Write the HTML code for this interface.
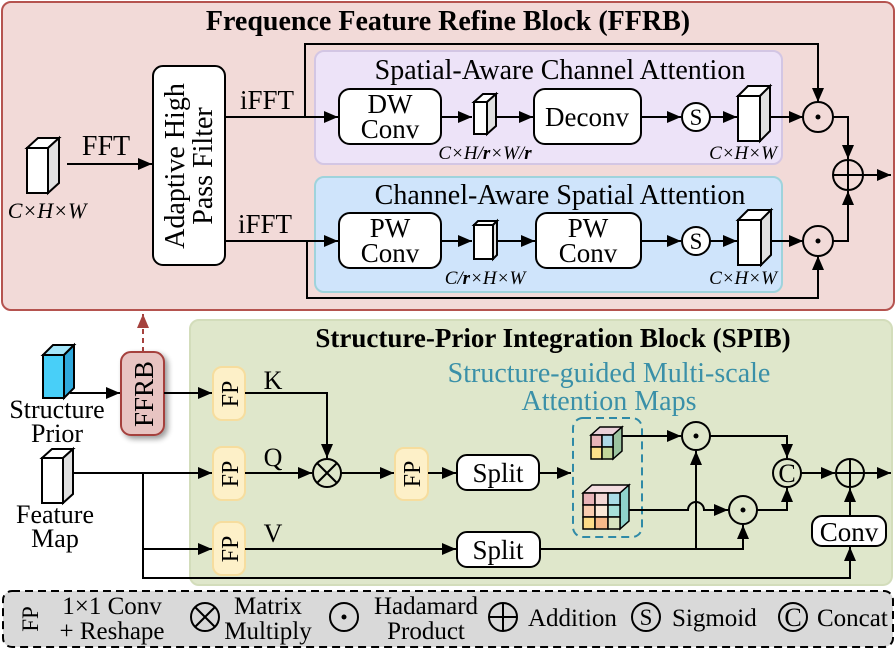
<!DOCTYPE html>
<html><head><meta charset="utf-8"><style>
html,body{margin:0;padding:0;background:#fff;}
svg{display:block;}
text{font-family:"Liberation Serif",serif;fill:#000;}
</style></head><body>
<svg width="896" height="650" viewBox="0 0 896 650" xmlns="http://www.w3.org/2000/svg">
<defs>
<marker id="a" viewBox="0 0 14 12" refX="14" refY="6" markerWidth="14" markerHeight="12" markerUnits="userSpaceOnUse" orient="auto"><path d="M0,0 L14,6 L0,12 z" fill="#000"/></marker>
<marker id="ared" viewBox="0 0 14 12" refX="14" refY="6" markerWidth="14" markerHeight="12" markerUnits="userSpaceOnUse" orient="auto"><path d="M0,0 L14,6 L0,12 z" fill="#a5413d"/></marker>
<filter id="sh" x="-30%" y="-30%" width="160%" height="160%"><feGaussianBlur in="SourceAlpha" stdDeviation="3"/><feOffset dx="3" dy="3"/><feComponentTransfer><feFuncA type="linear" slope="0.4"/></feComponentTransfer><feMerge><feMergeNode/><feMergeNode in="SourceGraphic"/></feMerge></filter>
</defs>

<!-- FFRB -->
<rect x="2" y="2" width="892" height="308" rx="9" fill="#f2dad8" stroke="#b5534f" stroke-width="2"/>
<text x="448" y="30" font-size="28" font-weight="bold" text-anchor="middle">Frequence Feature Refine Block (FFRB)</text>

<rect x="315" y="51" width="467" height="113" rx="9" fill="#ede3f8" stroke="#d3c6e4" stroke-width="2"/>
<text x="560" y="79" font-size="28" text-anchor="middle">Spatial-Aware Channel Attention</text>
<rect x="315" y="177" width="467" height="115" rx="9" fill="#cfe4fb" stroke="#9fd3dc" stroke-width="2"/>
<text x="560" y="204" font-size="28" text-anchor="middle">Channel-Aware Spatial Attention</text>

<g stroke="#000" stroke-width="2" fill="none">
<path d="M27,148 L38,138 L59,138 L48,148 Z" fill="#fff"/>
<path d="M48,148 L59,138 L59,183 L48,193 Z" fill="#e0e0e0"/>
<rect x="27" y="148" width="21" height="45" fill="#fff"/>
<line x1="67" y1="164" x2="152" y2="164" marker-end="url(#a)"/>
<rect x="153" y="66" width="72" height="199" rx="10" fill="#fff"/>
<line x1="225" y1="117" x2="338" y2="117" marker-end="url(#a)"/>
<polyline points="305,117 305,44 818,44 818,102" marker-end="url(#a)"/>
<line x1="225" y1="241" x2="338" y2="241" marker-end="url(#a)"/>
<polyline points="307,241 307,298 818,298 818,256" marker-end="url(#a)"/>

<rect x="339" y="89" width="102" height="55" rx="11" fill="#fff"/>
<line x1="441" y1="117" x2="472" y2="117" marker-end="url(#a)"/>
<path d="M474,102 L483,94 L496,94 L487,102 Z" fill="#fff"/>
<path d="M487,102 L496,94 L496,126 L487,134 Z" fill="#e0e0e0"/>
<rect x="474" y="102" width="13" height="32" fill="#fff"/>
<line x1="496" y1="117" x2="533" y2="117" marker-end="url(#a)"/>
<rect x="534" y="89" width="107" height="55" rx="11" fill="#fff"/>
<line x1="641" y1="117" x2="681" y2="117" marker-end="url(#a)"/>
<circle cx="696" cy="117" r="14" fill="#fff"/>
<line x1="710" y1="117" x2="737" y2="117" marker-end="url(#a)"/>
<path d="M738,96 L748,86 L770,86 L760,96 Z" fill="#fff"/>
<path d="M760,96 L770,86 L770,131 L760,141 Z" fill="#e0e0e0"/>
<rect x="738" y="96" width="22" height="45" fill="#fff"/>
<line x1="770" y1="117" x2="803" y2="117" marker-end="url(#a)"/>
<circle cx="818" cy="117" r="15" fill="none"/>
<polyline points="833,117 848,117 848,159" marker-end="url(#a)"/>

<rect x="339" y="213" width="102" height="55" rx="11" fill="#fff"/>
<line x1="441" y1="241" x2="472" y2="241" marker-end="url(#a)"/>
<path d="M474,225 L478,221 L497,221 L493,225 Z" fill="#fff"/>
<path d="M493,225 L497,221 L497,255 L493,259 Z" fill="#e0e0e0"/>
<rect x="474" y="225" width="19" height="34" fill="#fff"/>
<line x1="497" y1="241" x2="535" y2="241" marker-end="url(#a)"/>
<rect x="536" y="213" width="105" height="55" rx="11" fill="#fff"/>
<line x1="641" y1="241" x2="681" y2="241" marker-end="url(#a)"/>
<circle cx="696" cy="241" r="14" fill="#fff"/>
<line x1="710" y1="241" x2="737" y2="241" marker-end="url(#a)"/>
<path d="M738,220 L748,210 L771,210 L761,220 Z" fill="#fff"/>
<path d="M761,220 L771,210 L771,255 L761,265 Z" fill="#e0e0e0"/>
<rect x="738" y="220" width="23" height="45" fill="#fff"/>
<line x1="771" y1="241" x2="803" y2="241" marker-end="url(#a)"/>
<circle cx="818" cy="241" r="15" fill="none"/>
<polyline points="833,241 848,241 848,191" marker-end="url(#a)"/>
<circle cx="848" cy="175" r="15" fill="none"/>
<line x1="834" y1="175" x2="862" y2="175"/>
<line x1="848" y1="161" x2="848" y2="189"/>
<line x1="863" y1="175" x2="891" y2="175" marker-end="url(#a)"/>
</g>
<circle cx="818" cy="117" r="2.5" fill="#000"/>
<circle cx="818" cy="241" r="2.5" fill="#000"/>

<text x="47" y="218" font-size="22" font-style="italic" text-anchor="middle">C×H×W</text>
<text x="106" y="155" font-size="28" text-anchor="middle">FFT</text>
<text transform="translate(184,166) rotate(-90)" font-size="28" text-anchor="middle">Adaptive High</text>
<text transform="translate(212,166) rotate(-90)" font-size="28" text-anchor="middle">Pass Filter</text>
<text x="267" y="109" font-size="27" text-anchor="middle">iFFT</text>
<text x="265" y="233" font-size="27" text-anchor="middle">iFFT</text>
<text x="390" y="113" font-size="27" text-anchor="middle">DW</text>
<text x="390" y="138" font-size="27" text-anchor="middle">Conv</text>
<text x="587" y="126" font-size="27" text-anchor="middle">Deconv</text>
<text x="696" y="125" font-size="23" text-anchor="middle">S</text>
<text x="485" y="159" font-size="19" font-style="italic" text-anchor="middle">C×H/<tspan font-weight="bold">r</tspan>×W/<tspan font-weight="bold">r</tspan></text>
<text x="743" y="159" font-size="19" font-style="italic" text-anchor="middle">C×H×W</text>
<text x="390" y="237" font-size="27" text-anchor="middle">PW</text>
<text x="390" y="262" font-size="27" text-anchor="middle">Conv</text>
<text x="588" y="237" font-size="27" text-anchor="middle">PW</text>
<text x="588" y="262" font-size="27" text-anchor="middle">Conv</text>
<text x="696" y="249" font-size="23" text-anchor="middle">S</text>
<text x="485" y="284" font-size="19" font-style="italic" text-anchor="middle">C/<tspan font-weight="bold">r</tspan>×H×W</text>
<text x="743" y="284" font-size="19" font-style="italic" text-anchor="middle">C×H×W</text>

<!-- SPIB -->
<rect x="190" y="320" width="702" height="265" rx="9" fill="#dfe7cb" stroke="#d3ddbb" stroke-width="2"/>
<text x="553" y="347" font-size="27" font-weight="bold" text-anchor="middle">Structure-Prior Integration Block (SPIB)</text>
<text x="609" y="382" font-size="28" text-anchor="middle" style="fill:#3a90a8">Structure-guided Multi-scale</text>
<text x="609" y="410" font-size="28" text-anchor="middle" style="fill:#3a90a8">Attention Maps</text>

<line x1="143" y1="352" x2="143" y2="314" stroke="#a5413d" stroke-width="2" stroke-dasharray="5,4" marker-end="url(#ared)"/>

<g stroke="#000" stroke-width="2" fill="none">
<path d="M43,355 L53,345 L74,345 L64,355 Z" fill="#a4e6fa"/>
<path d="M64,355 L74,345 L74,388 L64,398 Z" fill="#2fa8dc"/>
<rect x="43" y="355" width="21" height="43" fill="#48cff8"/>
<line x1="70" y1="393" x2="120" y2="393" marker-end="url(#a)"/>
<rect x="121" y="352" width="43" height="83" rx="10" fill="#e8c4c2" stroke="#a5413d" filter="url(#sh)"/>
<line x1="164" y1="393" x2="212" y2="393" marker-end="url(#a)"/>
<path d="M42,458 L52,449 L73,449 L63,458 Z" fill="#fff"/>
<path d="M63,458 L73,449 L73,494 L63,503 Z" fill="#e0e0e0"/>
<rect x="42" y="458" width="21" height="45" fill="#fff"/>
<line x1="73" y1="473" x2="212" y2="473" marker-end="url(#a)"/>
<polyline points="143,473 143,578 850,578 850,547" marker-end="url(#a)"/>
<line x1="143" y1="549" x2="212" y2="549" marker-end="url(#a)"/>
</g>
<g stroke="#f6dd9e" stroke-width="2" fill="#fdf0c8">
<rect x="213" y="367" width="32" height="53" rx="9"/>
<rect x="213" y="447" width="32" height="53" rx="9"/>
<rect x="213" y="522" width="32" height="53" rx="9"/>
<rect x="395" y="448" width="33" height="52" rx="9"/>
<rect x="18" y="598" width="24" height="42" rx="8"/>
</g>
<g stroke="#000" stroke-width="2" fill="none">
<polyline points="245,393 327,393 327,458" marker-end="url(#a)"/>
<line x1="245" y1="473" x2="312" y2="473" marker-end="url(#a)"/>
<circle cx="327" cy="473" r="14"/>
<line x1="317" y1="463" x2="337" y2="483"/><line x1="337" y1="463" x2="317" y2="483"/>
<line x1="341" y1="473" x2="394" y2="473" marker-end="url(#a)"/>
<line x1="428" y1="473" x2="456" y2="473" marker-end="url(#a)"/>
<rect x="457" y="455" width="82" height="35" rx="10" fill="#fff"/>
<line x1="539" y1="473" x2="571" y2="473" marker-end="url(#a)"/>
<line x1="245" y1="549" x2="456" y2="549" marker-end="url(#a)"/>
<rect x="457" y="532" width="83" height="35" rx="10" fill="#fff"/>
<polyline points="540,549 743,549 743,525" marker-end="url(#a)"/>
<line x1="696" y1="549" x2="696" y2="451" marker-end="url(#a)"/>
<rect x="573" y="418" width="69" height="119" rx="10" stroke="#2f8aa7" stroke-dasharray="8,5"/>
<line x1="620" y1="436" x2="681" y2="436" marker-end="url(#a)"/>
<circle cx="696" cy="436" r="14"/>
<polyline points="710,436 787,436 787,458" marker-end="url(#a)"/>
<path d="M620,510 L688,510 A8,8 0 0 1 704,510 L716,510" />
<line x1="716" y1="510" x2="728" y2="510" marker-end="url(#a)"/>
<circle cx="743" cy="510" r="14"/>
<polyline points="757,510 787,510 787,488" marker-end="url(#a)"/>
<circle cx="787" cy="473" r="14"/>
<line x1="801" y1="473" x2="835" y2="473" marker-end="url(#a)"/>
<circle cx="850" cy="473" r="14"/>
<line x1="836" y1="473" x2="864" y2="473"/><line x1="850" y1="459" x2="850" y2="487"/>
<line x1="864" y1="473" x2="891" y2="473" marker-end="url(#a)"/>
<rect x="812" y="516" width="74" height="30" rx="10" fill="#fff"/>
<line x1="850" y1="516" x2="850" y2="488" marker-end="url(#a)"/>
</g>
<circle cx="696" cy="436" r="2.5" fill="#000"/>
<circle cx="743" cy="510" r="2.5" fill="#000"/>

<g stroke="#000" stroke-width="1.5">
<path d="M591,435 L600,427 L622,427 L613,435 Z" fill="#e9d0d8"/>
<path d="M613,435 L622,427 L622,451 L613,459 Z" fill="#9cc4a0"/>
<rect x="591" y="435" width="11" height="12" fill="#e8b4b8"/>
<rect x="602" y="435" width="11" height="12" fill="#add8e6"/>
<rect x="591" y="447" width="11" height="12" fill="#fde08a"/>
<rect x="602" y="447" width="11" height="12" fill="#c3d69b"/>
<path d="M583,493 L592,485 L629,485 L620,493 Z" fill="#f3dde0"/>
<path d="M620,493 L629,485 L629,521 L620,529 Z" fill="#8fd3cc"/>
<rect x="583" y="493" width="12" height="12" fill="#e8b4b8"/>
<rect x="595" y="493" width="13" height="12" fill="#f3d7d5"/>
<rect x="608" y="493" width="12" height="12" fill="#a9dbe6"/>
<rect x="583" y="505" width="12" height="12" fill="#f9cdb0"/>
<rect x="595" y="505" width="13" height="12" fill="#fbe8d8"/>
<rect x="608" y="505" width="12" height="12" fill="#a7e0da"/>
<rect x="583" y="517" width="12" height="12" fill="#fddc88"/>
<rect x="595" y="517" width="13" height="12" fill="#f7b98a"/>
<rect x="608" y="517" width="12" height="12" fill="#d8e3c0"/>
</g>

<text x="57" y="418" font-size="26" text-anchor="middle">Structure</text>
<text x="57" y="442" font-size="26" text-anchor="middle">Prior</text>
<text x="55" y="523" font-size="26" text-anchor="middle">Feature</text>
<text x="55" y="547" font-size="26" text-anchor="middle">Map</text>
<text transform="translate(153,394) rotate(-90)" font-size="27" text-anchor="middle">FFRB</text>
<text transform="translate(238,394) rotate(-90)" font-size="24" text-anchor="middle">FP</text>
<text transform="translate(238,474) rotate(-90)" font-size="24" text-anchor="middle">FP</text>
<text transform="translate(238,549) rotate(-90)" font-size="24" text-anchor="middle">FP</text>
<text transform="translate(420,474) rotate(-90)" font-size="24" text-anchor="middle">FP</text>
<text x="273" y="389" font-size="26" text-anchor="middle">K</text>
<text x="273" y="466" font-size="26" text-anchor="middle">Q</text>
<text x="273" y="542" font-size="26" text-anchor="middle">V</text>
<text x="498" y="482" font-size="27" text-anchor="middle">Split</text>
<text x="498" y="559" font-size="27" text-anchor="middle">Split</text>
<text x="787" y="482" font-size="26" text-anchor="middle">C</text>
<text x="849" y="541" font-size="27" text-anchor="middle">Conv</text>

<!-- Legend -->
<rect x="3" y="591" width="890" height="56" rx="9" fill="#d9d9d9" stroke="#000" stroke-width="2" stroke-dasharray="8,5"/>
<text transform="translate(38,619) rotate(-90)" font-size="23" text-anchor="middle">FP</text>
<text x="112" y="614" font-size="25" text-anchor="middle">1×1 Conv</text>
<text x="112" y="639" font-size="25" text-anchor="middle">+ Reshape</text>
<g stroke="#000" stroke-width="2" fill="none">
<circle cx="205" cy="617" r="14"/>
<line x1="195" y1="607" x2="215" y2="627"/><line x1="215" y1="607" x2="195" y2="627"/>
<circle cx="344" cy="617" r="14"/>
<circle cx="503" cy="617" r="14"/>
<line x1="489" y1="617" x2="517" y2="617"/><line x1="503" y1="603" x2="503" y2="631"/>
<circle cx="646" cy="617" r="14"/>
<circle cx="793" cy="617" r="14"/>
</g>
<circle cx="344" cy="617" r="2.5" fill="#000"/>
<text x="268" y="614" font-size="25" text-anchor="middle">Matrix</text>
<text x="268" y="639" font-size="25" text-anchor="middle">Multiply</text>
<text x="426" y="614" font-size="25" text-anchor="middle">Hadamard</text>
<text x="426" y="639" font-size="25" text-anchor="middle">Product</text>
<text x="528" y="626" font-size="25">Addition</text>
<text x="646" y="625" font-size="23" text-anchor="middle">S</text>
<text x="672" y="626" font-size="25">Sigmoid</text>
<text x="793" y="626" font-size="26" text-anchor="middle">C</text>
<text x="817" y="626" font-size="25">Concat</text>
</svg>
</body></html>
